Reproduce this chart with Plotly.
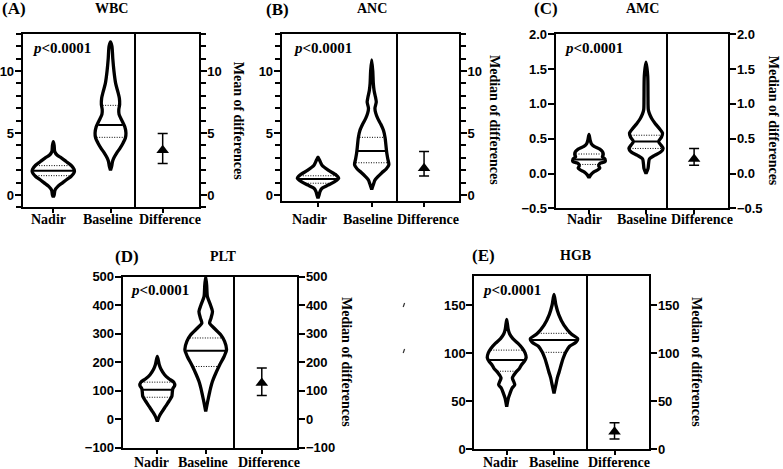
import numpy as np
import plotly.graph_objects as go

W, H = 783, 469

# ---------------- data ----------------
panel_names = ["WBC", "ANC", "AMC", "PLT", "HGB"]
panel_letters = ["(A)", "(B)", "(C)", "(D)", "(E)"]
groups = ["Nadir", "Baseline"]
diff_label = ["Difference"]
right_titles = ["Mean of differences", "Median of differences", "Median of differences",
                "Median of differences", "Median of differences"]

# violin outlines: y levels and half widths (category units)
wbc_nadir_y = [4.3, 4.0, 3.5, 3.2, 3.0, 2.7, 2.4, 2.1, 1.9, 1.7, 1.5, 1.3, 1.0, 0.7, 0.4, 0.0, -0.15]
wbc_nadir_hw = [0, 0.015, 0.025, 0.07, 0.14, 0.225, 0.31, 0.36, 0.37, 0.35, 0.31, 0.25, 0.165, 0.08, 0.03, 0.015, 0]
wbc_base_y = [12.35, 12.0, 11.0, 10.0, 9.0, 8.3, 7.8, 7.3, 6.9, 6.5, 6.0, 5.5, 5.0, 4.6, 4.2, 3.8, 3.4, 3.0, 2.7, 2.3, 2.0]
wbc_base_hw = [0, 0.025, 0.04, 0.06, 0.09, 0.13, 0.155, 0.16, 0.145, 0.15, 0.2, 0.25, 0.27, 0.26, 0.22, 0.17, 0.11, 0.06, 0.035, 0.02, 0]

anc_nadir_y = [3.05, 2.8, 2.4, 2.0, 1.6, 1.34, 1.07, 0.8, 0.54, 0.27, 0.0, -0.27]
anc_nadir_hw = [0, 0.03, 0.075, 0.19, 0.34, 0.385, 0.31, 0.19, 0.075, 0.037, 0.02, 0]
anc_base_y = [10.9, 10.0, 9.0, 8.4, 7.9, 7.5, 7.0, 6.6, 6.2, 5.7, 5.2, 4.6, 4.0, 3.4, 2.9, 2.45, 2.1, 1.8, 1.5, 1.2, 0.9, 0.45]
anc_base_hw = [0, 0.02, 0.03, 0.045, 0.07, 0.085, 0.06, 0.075, 0.11, 0.17, 0.22, 0.25, 0.265, 0.28, 0.3, 0.32, 0.27, 0.19, 0.12, 0.06, 0.035, 0]

amc_nadir_y = [0.56, 0.48, 0.43, 0.39, 0.35, 0.31, 0.27, 0.24, 0.21, 0.17, 0.145, 0.11, 0.08, 0.05, 0.02, -0.02, -0.06]
amc_nadir_hw = [0, 0.02, 0.04, 0.09, 0.19, 0.24, 0.25, 0.235, 0.28, 0.28, 0.19, 0.17, 0.19, 0.15, 0.08, 0.03, 0]
amc_base_y = [1.6, 1.4, 1.1, 0.92, 0.86, 0.79, 0.72, 0.65, 0.58, 0.52, 0.46, 0.41, 0.36, 0.31, 0.26, 0.21, 0.14, 0.07, 0.0]
amc_base_hw = [0, 0.03, 0.035, 0.04, 0.06, 0.1, 0.16, 0.23, 0.29, 0.27, 0.22, 0.26, 0.3, 0.26, 0.15, 0.06, 0.045, 0.035, 0]

plt_nadir_y = [220, 191, 174, 156, 142, 130, 118, 107, 95, 80, 63, 45, 27, 10, -8]
plt_nadir_hw = [0, 0.04, 0.08, 0.15, 0.24, 0.34, 0.36, 0.32, 0.31, 0.3, 0.24, 0.17, 0.1, 0.04, 0]
plt_base_y = [500, 470, 430, 400, 378, 355, 337, 320, 296, 273, 244, 220, 191, 162, 133, 109, 86, 62, 27]
plt_base_hw = [0, 0.02, 0.035, 0.1, 0.14, 0.11, 0.08, 0.17, 0.31, 0.39, 0.43, 0.38, 0.29, 0.21, 0.14, 0.1, 0.07, 0.04, 0]

hgb_nadir_y = [135, 125, 120, 115, 110, 105, 100, 95, 91, 87.5, 84, 79, 74, 70, 67, 63, 58, 53, 44]
hgb_nadir_hw = [0, 0.03, 0.06, 0.13, 0.24, 0.33, 0.39, 0.41, 0.37, 0.31, 0.27, 0.18, 0.12, 0.15, 0.17, 0.11, 0.07, 0.035, 0]
hgb_base_y = [161, 150, 140, 129, 120, 115, 111, 107, 101, 94, 87.5, 80.5, 74, 67, 58]
hgb_base_hw = [0, 0.04, 0.1, 0.21, 0.36, 0.5, 0.46, 0.33, 0.25, 0.19, 0.15, 0.11, 0.07, 0.04, 0]

# quartiles [Q1, median, Q3]
wbc_nadir_q = [1.56, 1.95, 2.37]
wbc_base_q = [4.65, 5.65, 7.23]
anc_nadir_q = [0.95, 1.3, 1.55]
anc_base_q = [2.6, 3.55, 4.65]
amc_nadir_q = [0.13, 0.2, 0.28]
amc_base_q = [0.36, 0.46, 0.55]
plt_nadir_q = [77, 103.5, 130]
plt_base_q = [185, 240, 285]
hgb_nadir_q = [81, 92.7, 103]
hgb_base_q = [100.7, 113.5, 120.5]

# difference [estimate, lower, upper]
wbc_diff = [3.6, 2.55, 4.95]
anc_diff = [2.15, 1.53, 3.5]
amc_diff = [0.21, 0.12, 0.36]
plt_diff = [127, 83, 180]
hgb_diff = [18, 10.4, 27.4]

violins = [
    [(wbc_nadir_y, wbc_nadir_hw, wbc_nadir_q), (wbc_base_y, wbc_base_hw, wbc_base_q)],
    [(anc_nadir_y, anc_nadir_hw, anc_nadir_q), (anc_base_y, anc_base_hw, anc_base_q)],
    [(amc_nadir_y, amc_nadir_hw, amc_nadir_q), (amc_base_y, amc_base_hw, amc_base_q)],
    [(plt_nadir_y, plt_nadir_hw, plt_nadir_q), (plt_base_y, plt_base_hw, plt_base_q)],
    [(hgb_nadir_y, hgb_nadir_hw, hgb_nadir_q), (hgb_base_y, hgb_base_hw, hgb_base_q)],
]
diffs = [wbc_diff, anc_diff, amc_diff, plt_diff, hgb_diff]

# ---------------- layout (pixel boxes) ----------------
boxes = [
    dict(L=22.7, D=135.5, R=198.7, T=33.8, B=207.4, yr=[-1, 13], xr=[-0.535, 1.437], dtick=5, minor=1, fmt=None,
         title=(111, 8.5), letter=(13.5, 8.5), p=(30, 48.3), rt=(238.3, 121),
         labx=(48, 108, 170), laby=219),
    dict(L=281.7, D=397.7, R=459.0, T=33.8, B=201.2, yr=[-0.5, 13], xr=[-0.676, 1.484], dtick=5, minor=1, fmt=None,
         title=(371.7, 8.5), letter=(277.5, 10), p=(291, 48.3), rt=(495, 120),
         labx=(309, 368, 428), laby=219),
    dict(L=555.7, D=668.3, R=728.3, T=34.3, B=208.3, yr=[-0.5, 2.0], xr=[-0.584, 1.391], dtick=0.5, minor=None, fmt=".1f",
         title=(642.5, 8.5), letter=(545.8, 8.5), p=(561.7, 48.3), rt=(773.3, 121),
         labx=(584, 642, 702), laby=219),
    dict(L=122.7, D=235.0, R=297.3, T=276.7, B=447.7, yr=[-100, 500], xr=[-0.715, 1.605], dtick=100, minor=None, fmt=None,
         title=(223.3, 256.7), letter=(127.5, 256.7), p=(128.3, 290), rt=(346.7, 361.7),
         labx=(151, 203.3, 268.8), laby=462),
    dict(L=474.3, D=588.3, R=649.3, T=276.2, B=449.0, yr=[0, 180], xr=[-0.685, 1.725], dtick=50, minor=None, fmt=None,
         title=(575, 255), letter=(483.3, 255), p=(480, 290), rt=(696.7, 361.7),
         labx=(500, 554, 619.3), laby=462),
]
diff_xr = [-0.86, 1.14]

SERIF = "Liberation Serif, Times New Roman, serif"
SANS = "Liberation Sans Narrow, Arial Narrow, Liberation Sans, Arial, sans-serif"


def px_x(p):
    return p / W


def px_y(p):
    return 1 - p / H


def axname(prefix, n):
    return prefix if n == 1 else f"{prefix}{n}"


fig = go.Figure()
layout = dict(template="none", width=W, height=H, margin=dict(l=0, r=0, t=0, b=0, pad=0), autosize=False,
              paper_bgcolor="white", plot_bgcolor="rgba(0,0,0,0)", showlegend=False)
annotations = []


def add_text(text, x, y, size, xanchor="center", angle=0):
    annotations.append(dict(text=text, x=px_x(x), y=px_y(y), xref="paper", yref="paper", showarrow=False,
                            xanchor=xanchor, yanchor="middle", textangle=angle,
                            font=dict(family=SERIF, size=size, color="black")))


for i, bx in enumerate(boxes):
    vn, dn = 2 * i + 1, 2 * i + 2
    ydom = [px_y(bx["B"]), px_y(bx["T"])]
    yfont = dict(family=SANS, size=13, color="black", weight="bold")

    common_x = dict(showline=True, linewidth=2, linecolor="black", mirror=True, showgrid=False,
                    zeroline=False, ticks="outside", ticklen=4, tickwidth=2, tickcolor="black",
                    showticklabels=False, fixedrange=True, automargin=False)
    layout["xaxis" + ("" if vn == 1 else str(vn))] = dict(
        common_x, domain=[px_x(bx["L"]), px_x(bx["D"])], range=bx["xr"], anchor=axname("y", vn),
        tickmode="array", tickvals=list(range(len(groups))), ticktext=groups)
    layout["xaxis" + str(dn)] = dict(
        common_x, domain=[px_x(bx["D"]), px_x(bx["R"])], range=diff_xr, anchor=axname("y", dn),
        tickmode="array", tickvals=[0], ticktext=diff_label)

    common_y = dict(showline=True, linewidth=2, linecolor="black", showgrid=False,
                    zeroline=False, ticks="outside", ticklen=6, tickwidth=2, tickcolor="black",
                    tickfont=yfont, domain=ydom, range=bx["yr"], tickmode="linear", tick0=0,
                    dtick=bx["dtick"], fixedrange=True, automargin=False, ticklabelstandoff=-2)
    if bx["fmt"]:
        common_y["tickformat"] = bx["fmt"]
    if bx["minor"]:
        common_y["minor"] = dict(dtick=bx["minor"], tick0=0, ticks="outside", ticklen=5, tickwidth=1.5,
                                 tickcolor="black", showgrid=False)
    layout["yaxis" + ("" if vn == 1 else str(vn))] = dict(common_y, anchor=axname("x", vn), side="left",
                                                           mirror=False)
    layout["yaxis" + str(dn)] = dict(common_y, anchor=axname("x", dn), side="right", mirror=True)

    # violins
    for gi, (yy, hw, q) in enumerate(violins[i]):
        yy = np.array(yy, dtype=float)
        hw = np.array(hw, dtype=float)
        xs = np.concatenate([gi + hw, (gi - hw)[::-1]])
        ys = np.concatenate([yy, yy[::-1]])
        fig.add_trace(go.Scatter(x=xs, y=ys, mode="lines", fill="toself", fillcolor="white",
                                 line=dict(color="black", width=3.3, shape="spline", smoothing=0.7),
                                 xaxis=axname("x", vn), yaxis=axname("y", vn), hoverinfo="skip"))
        order = np.argsort(yy)
        for k, qv in enumerate(q):
            w = float(np.interp(qv, yy[order], hw[order])) - 0.02
            fig.add_trace(go.Scatter(x=[gi - w, gi + w], y=[qv, qv], mode="lines",
                                     line=dict(color="black", width=2 if k == 1 else 1,
                                               dash="solid" if k == 1 else "1px,1.5px"),
                                     xaxis=axname("x", vn), yaxis=axname("y", vn), hoverinfo="skip"))

    # difference
    est, lo, hi = diffs[i]
    fig.add_trace(go.Scatter(x=[0], y=[est], mode="markers",
                             marker=dict(symbol="triangle-up", size=11, color="black"),
                             error_y=dict(type="data", symmetric=False, array=[hi - est],
                                          arrayminus=[est - lo], color="black", thickness=1.5, width=5),
                             xaxis=axname("x", dn), yaxis=axname("y", dn), hoverinfo="skip"))

    # texts
    add_text("<b>" + panel_letters[i] + "</b>", bx["letter"][0], bx["letter"][1], 17)
    add_text("<b>" + panel_names[i] + "</b>", bx["title"][0], bx["title"][1], 14)
    add_text("<b><i>p</i>&lt;0.0001</b>", bx["p"][0], bx["p"][1], 15, xanchor="left")
    add_text("<b>" + right_titles[i] + "</b>", bx["rt"][0], bx["rt"][1], 14, angle=90)
    for lab, lx in zip(groups + diff_label, bx["labx"]):
        add_text("<b>" + lab + "</b>", lx, bx["laby"], 14)

# tiny stray marks visible in the reference
shapes = []
for ym in (305, 351):
    shapes.append(dict(type="line", xref="paper", yref="paper",
                       x0=px_x(403.2), y0=px_y(ym + 2), x1=px_x(404.6), y1=px_y(ym - 2),
                       line=dict(color="#333333", width=1.2)))

layout["annotations"] = annotations
layout["shapes"] = shapes
fig.update_layout(**layout)
fig.write_html("out.html", config={"displayModeBar": False},
               post_script="document.body.style.margin='0px';document.body.style.padding='0px';")
